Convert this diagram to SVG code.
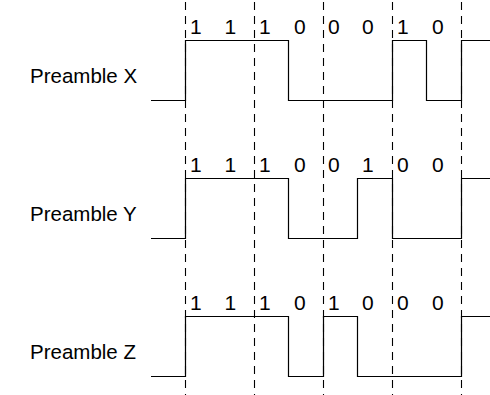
<svg xmlns="http://www.w3.org/2000/svg" width="490" height="395" viewBox="0 0 490 395">
<style>
.lbl{font-family:"Liberation Sans",Arial,sans-serif;font-size:20.5px;fill:#000}
.bit{font-family:"Liberation Sans",Arial,sans-serif;font-size:21px;fill:#000}
.sig{fill:none;stroke:#000;stroke-width:1.2}
.grid{stroke:#000;stroke-width:1.1;stroke-dasharray:8,6}
</style>
<rect width="490" height="395" fill="#fff"/>
<g id="connectors">
<line class="grid" x1="185.5" y1="2" x2="185.5" y2="395"/>
<line class="grid" x1="254.5" y1="2" x2="254.5" y2="395"/>
<line class="grid" x1="323.5" y1="2" x2="323.5" y2="395"/>
<line class="grid" x1="392.5" y1="2" x2="392.5" y2="395"/>
<line class="grid" x1="461.5" y1="2" x2="461.5" y2="395"/>
</g>
<g id="preambleX">
<text class="lbl" x="30" y="83">Preamble X</text>
<polyline class="sig" points="151,100.5 185.5,100.5 185.5,40.5 288.5,40.5 288.5,100.5 392.5,100.5 392.5,40.5 426.5,40.5 426.5,100.5 461.5,100.5 461.5,40.5 490,40.5"/>
<text class="bit" x="190" y="34">1</text><text class="bit" x="224.5" y="34">1</text>
<text class="bit" x="259" y="34">1</text><text class="bit" x="294" y="34">0</text>
<text class="bit" x="328" y="34">0</text><text class="bit" x="362" y="34">0</text>
<text class="bit" x="397" y="34">1</text><text class="bit" x="432" y="34">0</text>
</g>
<g id="preambleY">
<text class="lbl" x="30" y="221">Preamble Y</text>
<polyline class="sig" points="151,238.5 185.5,238.5 185.5,178.5 288.5,178.5 288.5,238.5 357.5,238.5 357.5,178.5 392.5,178.5 392.5,238.5 461.5,238.5 461.5,178.5 490,178.5"/>
<text class="bit" x="190" y="172">1</text><text class="bit" x="224.5" y="172">1</text>
<text class="bit" x="259" y="172">1</text><text class="bit" x="294" y="172">0</text>
<text class="bit" x="328" y="172">0</text><text class="bit" x="362" y="172">1</text>
<text class="bit" x="397" y="172">0</text><text class="bit" x="432" y="172">0</text>
</g>
<g id="preambleZ">
<text class="lbl" x="30" y="359">Preamble Z</text>
<polyline class="sig" points="151,376.5 185.5,376.5 185.5,316.5 288.5,316.5 288.5,376.5 323.5,376.5 323.5,316.5 357.5,316.5 357.5,376.5 461.5,376.5 461.5,316.5 490,316.5"/>
<text class="bit" x="190" y="310">1</text><text class="bit" x="224.5" y="310">1</text>
<text class="bit" x="259" y="310">1</text><text class="bit" x="294" y="310">0</text>
<text class="bit" x="328" y="310">1</text><text class="bit" x="362" y="310">0</text>
<text class="bit" x="397" y="310">0</text><text class="bit" x="432" y="310">0</text>
</g>
</svg>
